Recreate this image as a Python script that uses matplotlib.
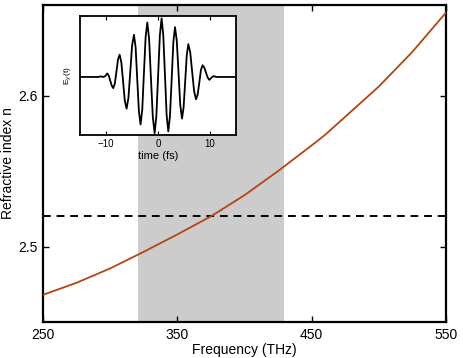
import matplotlib
matplotlib.use("Agg")
import matplotlib.pyplot as plt

plt.rcParams['font.family'] = ['Liberation Sans', 'DejaVu Sans']

# refractive index vs frequency
freq = [250, 275, 300, 325, 350, 375, 400, 425, 450, 460, 475, 500, 525, 550]
n_index = [2.468, 2.476, 2.4855, 2.4965, 2.508, 2.520, 2.534, 2.550, 2.567, 2.574,
           2.586, 2.606, 2.629, 2.655]
n_target = 2.52
band = [320.5, 429.5]
xticks_main = [250, 350, 450, 550]
yticks_main = [2.5, 2.6]

# pulse in the inset, E_y(t) normalised
t_fs = [-15, -11.5, -11.0, -10.6, -10.2, -9.75, -9.46, -9.18, -8.89, -8.6,
        -8.30, -7.99, -7.69, -7.38, -7.05, -6.71, -6.38, -6.04, -5.69, -5.33,
        -4.98, -4.62, -4.30, -3.99, -3.67, -3.35, -3.03, -2.71, -2.38, -2.06,
        -1.71, -1.36, -1.00, -0.65, -0.32, 0.02, 0.36, 0.69, 1.01, 1.34,
        1.66, 1.98, 2.30, 2.63, 2.95, 3.27, 3.61, 3.95, 4.28, 4.62,
        4.92, 5.23, 5.53, 5.83, 6.20, 6.57, 6.94, 7.31, 7.63, 7.95,
        8.26, 8.58, 8.90, 9.23, 9.55, 9.87, 10.3, 10.7, 11.2, 15]
e_y = [0.0, 0.0, 0.01, 0.0, 0.01, 0.06, 0.02, -0.065, -0.15, -0.19,
       -0.11, 0.095, 0.30, 0.38, 0.25, -0.08, -0.41, -0.54, -0.36, 0.09,
       0.54, 0.72, 0.50, -0.045, -0.59, -0.81, -0.56, 0.06, 0.68, 0.93,
       0.65, -0.015, -0.68, -0.96, -0.67, 0.02, 0.71, 1.0, 0.72, 0.035,
       -0.65, -0.93, -0.67, -0.04, 0.59, 0.85, 0.62, 0.07, -0.48, -0.71,
       -0.52, -0.075, 0.37, 0.56, 0.42, 0.09, -0.24, -0.38, -0.30, -0.09,
       0.12, 0.2, 0.16, 0.075, -0.01, -0.05, -0.01, 0.015, 0.0, 0.0]
xticks_inset = [-10, 0, 10]

fig = plt.figure(figsize=(4.63, 3.58), dpi=100)
ax = fig.add_axes([0.0929, 0.1006, 0.8704, 0.8854])

ax.axvspan(band[0], band[1], color="#cccccc", lw=0, zorder=0)
ax.axhline(n_target, color="black", lw=1.4, ls=(0, (4, 3)), zorder=2)
ax.plot(freq, n_index, color="#b5450f", lw=1.3, zorder=3)

ax.set_xlim(250, 550)
ax.set_ylim(2.45, 2.66)
ax.set_xticks(xticks_main)
ax.set_yticks(yticks_main)
ax.tick_params(direction="in", top=True, right=True, length=4, width=1,
               labelsize=10, pad=4)
for s in ax.spines.values():
    s.set_linewidth(1.6)
ax.set_xlabel("Frequency (THz)", fontsize=10, labelpad=1)
ax.set_ylabel("Refractive index n", fontsize=10)
ax.yaxis.set_label_coords(-0.07, 0.5)

# inset
ins = fig.add_axes([0.1728, 0.6229, 0.3369, 0.3324])
ins.plot(t_fs, e_y, color="black", lw=1.3)
ins.set_xlim(-15, 15)
ins.set_ylim(-0.99, 1.04)
ins.set_xticks(xticks_inset)
ins.set_yticks([])
ins.tick_params(direction="in", top=True, length=3, width=0.8,
                labelsize=7, pad=3)
for s in ins.spines.values():
    s.set_linewidth(1.3)
ins.set_xlabel("time (fs)", fontsize=8, labelpad=1)
ins.set_ylabel("E$_y$(t)", fontsize=6, labelpad=4)

fig.savefig("out.png", dpi=100)
